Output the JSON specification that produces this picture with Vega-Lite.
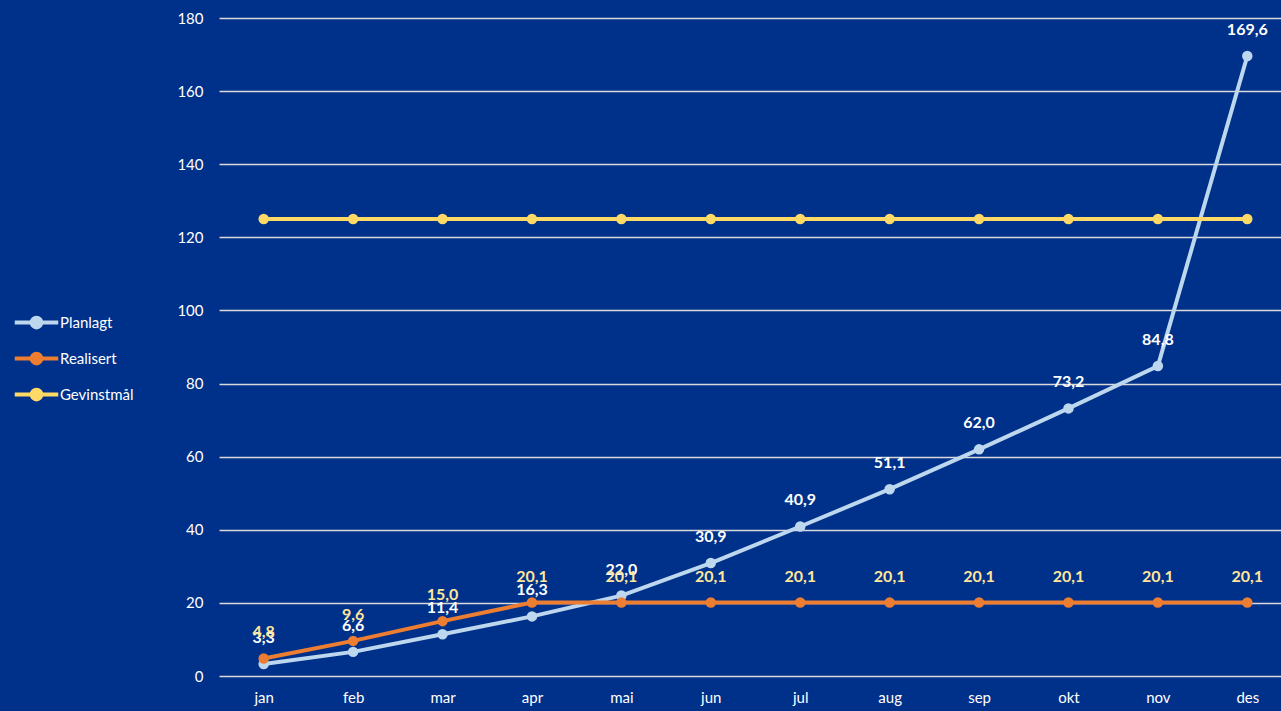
{
  "$schema": "https://vega.github.io/schema/vega-lite/v6.json",
  "autosize": {"type": "none"},
  "padding": {"left": 219, "top": 18, "right": 0, "bottom": 35},
  "width": 1073,
  "height": 658,
  "background": "#00318A",
  "config": {
    "view": {"stroke": null},
    "locale": {"number": {"decimal": ",", "thousands": " ", "grouping": [3], "currency": ["", " kr"]}},
    "font": "Lato"
  },
  "data": {
    "values": [
      {"month": "jan", "series": "Planlagt", "value": 3.3},
      {"month": "feb", "series": "Planlagt", "value": 6.6},
      {"month": "mar", "series": "Planlagt", "value": 11.4},
      {"month": "apr", "series": "Planlagt", "value": 16.3},
      {"month": "mai", "series": "Planlagt", "value": 22.0},
      {"month": "jun", "series": "Planlagt", "value": 30.9},
      {"month": "jul", "series": "Planlagt", "value": 40.9},
      {"month": "aug", "series": "Planlagt", "value": 51.1},
      {"month": "sep", "series": "Planlagt", "value": 62.0},
      {"month": "okt", "series": "Planlagt", "value": 73.2},
      {"month": "nov", "series": "Planlagt", "value": 84.8},
      {"month": "des", "series": "Planlagt", "value": 169.6},
      {"month": "jan", "series": "Realisert", "value": 4.8},
      {"month": "feb", "series": "Realisert", "value": 9.6},
      {"month": "mar", "series": "Realisert", "value": 15.0},
      {"month": "apr", "series": "Realisert", "value": 20.1},
      {"month": "mai", "series": "Realisert", "value": 20.1},
      {"month": "jun", "series": "Realisert", "value": 20.1},
      {"month": "jul", "series": "Realisert", "value": 20.1},
      {"month": "aug", "series": "Realisert", "value": 20.1},
      {"month": "sep", "series": "Realisert", "value": 20.1},
      {"month": "okt", "series": "Realisert", "value": 20.1},
      {"month": "nov", "series": "Realisert", "value": 20.1},
      {"month": "des", "series": "Realisert", "value": 20.1},
      {"month": "jan", "series": "Gevinstmål", "value": 125},
      {"month": "feb", "series": "Gevinstmål", "value": 125},
      {"month": "mar", "series": "Gevinstmål", "value": 125},
      {"month": "apr", "series": "Gevinstmål", "value": 125},
      {"month": "mai", "series": "Gevinstmål", "value": 125},
      {"month": "jun", "series": "Gevinstmål", "value": 125},
      {"month": "jul", "series": "Gevinstmål", "value": 125},
      {"month": "aug", "series": "Gevinstmål", "value": 125},
      {"month": "sep", "series": "Gevinstmål", "value": 125},
      {"month": "okt", "series": "Gevinstmål", "value": 125},
      {"month": "nov", "series": "Gevinstmål", "value": 125},
      {"month": "des", "series": "Gevinstmål", "value": 125}
    ]
  },
  "encoding": {
    "x": {
      "field": "month", "type": "ordinal", "sort": null,
      "scale": {"type": "point", "padding": 0.5},
      "axis": {"title": null, "labelAngle": 0, "domain": false, "ticks": false, "grid": false,
               "labelColor": "#FFFFFF", "labelFontSize": 15, "labelPadding": 14, "labelFont": "Lato"}
    },
    "y": {
      "field": "value", "type": "quantitative",
      "scale": {"domain": [0, 180], "nice": false},
      "axis": {"title": null, "values": [0, 20, 40, 60, 80, 100, 120, 140, 160, 180], "domain": false, "ticks": false,
               "gridColor": "#D9D9D9", "gridWidth": 1.5, "gridOpacity": 1,
               "labelColor": "#FFFFFF", "labelFontSize": 15, "labelPadding": 16, "labelFont": "Lato"}
    },
    "color": {
      "field": "series", "type": "nominal",
      "scale": {"domain": ["Planlagt", "Realisert", "Gevinstmål"], "range": ["#BDD7EE", "#ED7D31", "#FFD966"]},
      "legend": {
        "title": null, "orient": "none", "legendX": -192, "legendY": 295,
        "symbolType": "M -2.9 0 L 2.9 0 M -0.65 0 A 0.65 0.65 0 1 0 0.65 0 A 0.65 0.65 0 1 0 -0.65 0",
        "symbolSize": 225, "symbolStrokeWidth": 4, "symbolOffset": 0,
        "labelColor": "#FFFFFF", "labelFontSize": 15, "labelFont": "Lato",
        "rowPadding": 9, "labelOffset": 14
      }
    }
  },
  "layer": [
    {
      "mark": {"type": "line", "strokeWidth": 4, "point": {"filled": true, "size": 110}}
    },
    {
      "transform": [{"filter": "datum.series !== 'Gevinstmål'"}],
      "mark": {"type": "text", "dy": -26, "fontWeight": "bold", "fontSize": 16, "font": "Lato"},
      "encoding": {
        "text": {"field": "value", "type": "quantitative", "format": ".1f"},
        "color": {
          "field": "series", "type": "nominal",
          "scale": {"domain": ["Planlagt", "Realisert", "Gevinstmål"], "range": ["#FFFFFF", "#FFE699", "#FFD966"]},
          "legend": null
        }
      }
    }
  ],
  "resolve": {"scale": {"color": "independent"}}
}
